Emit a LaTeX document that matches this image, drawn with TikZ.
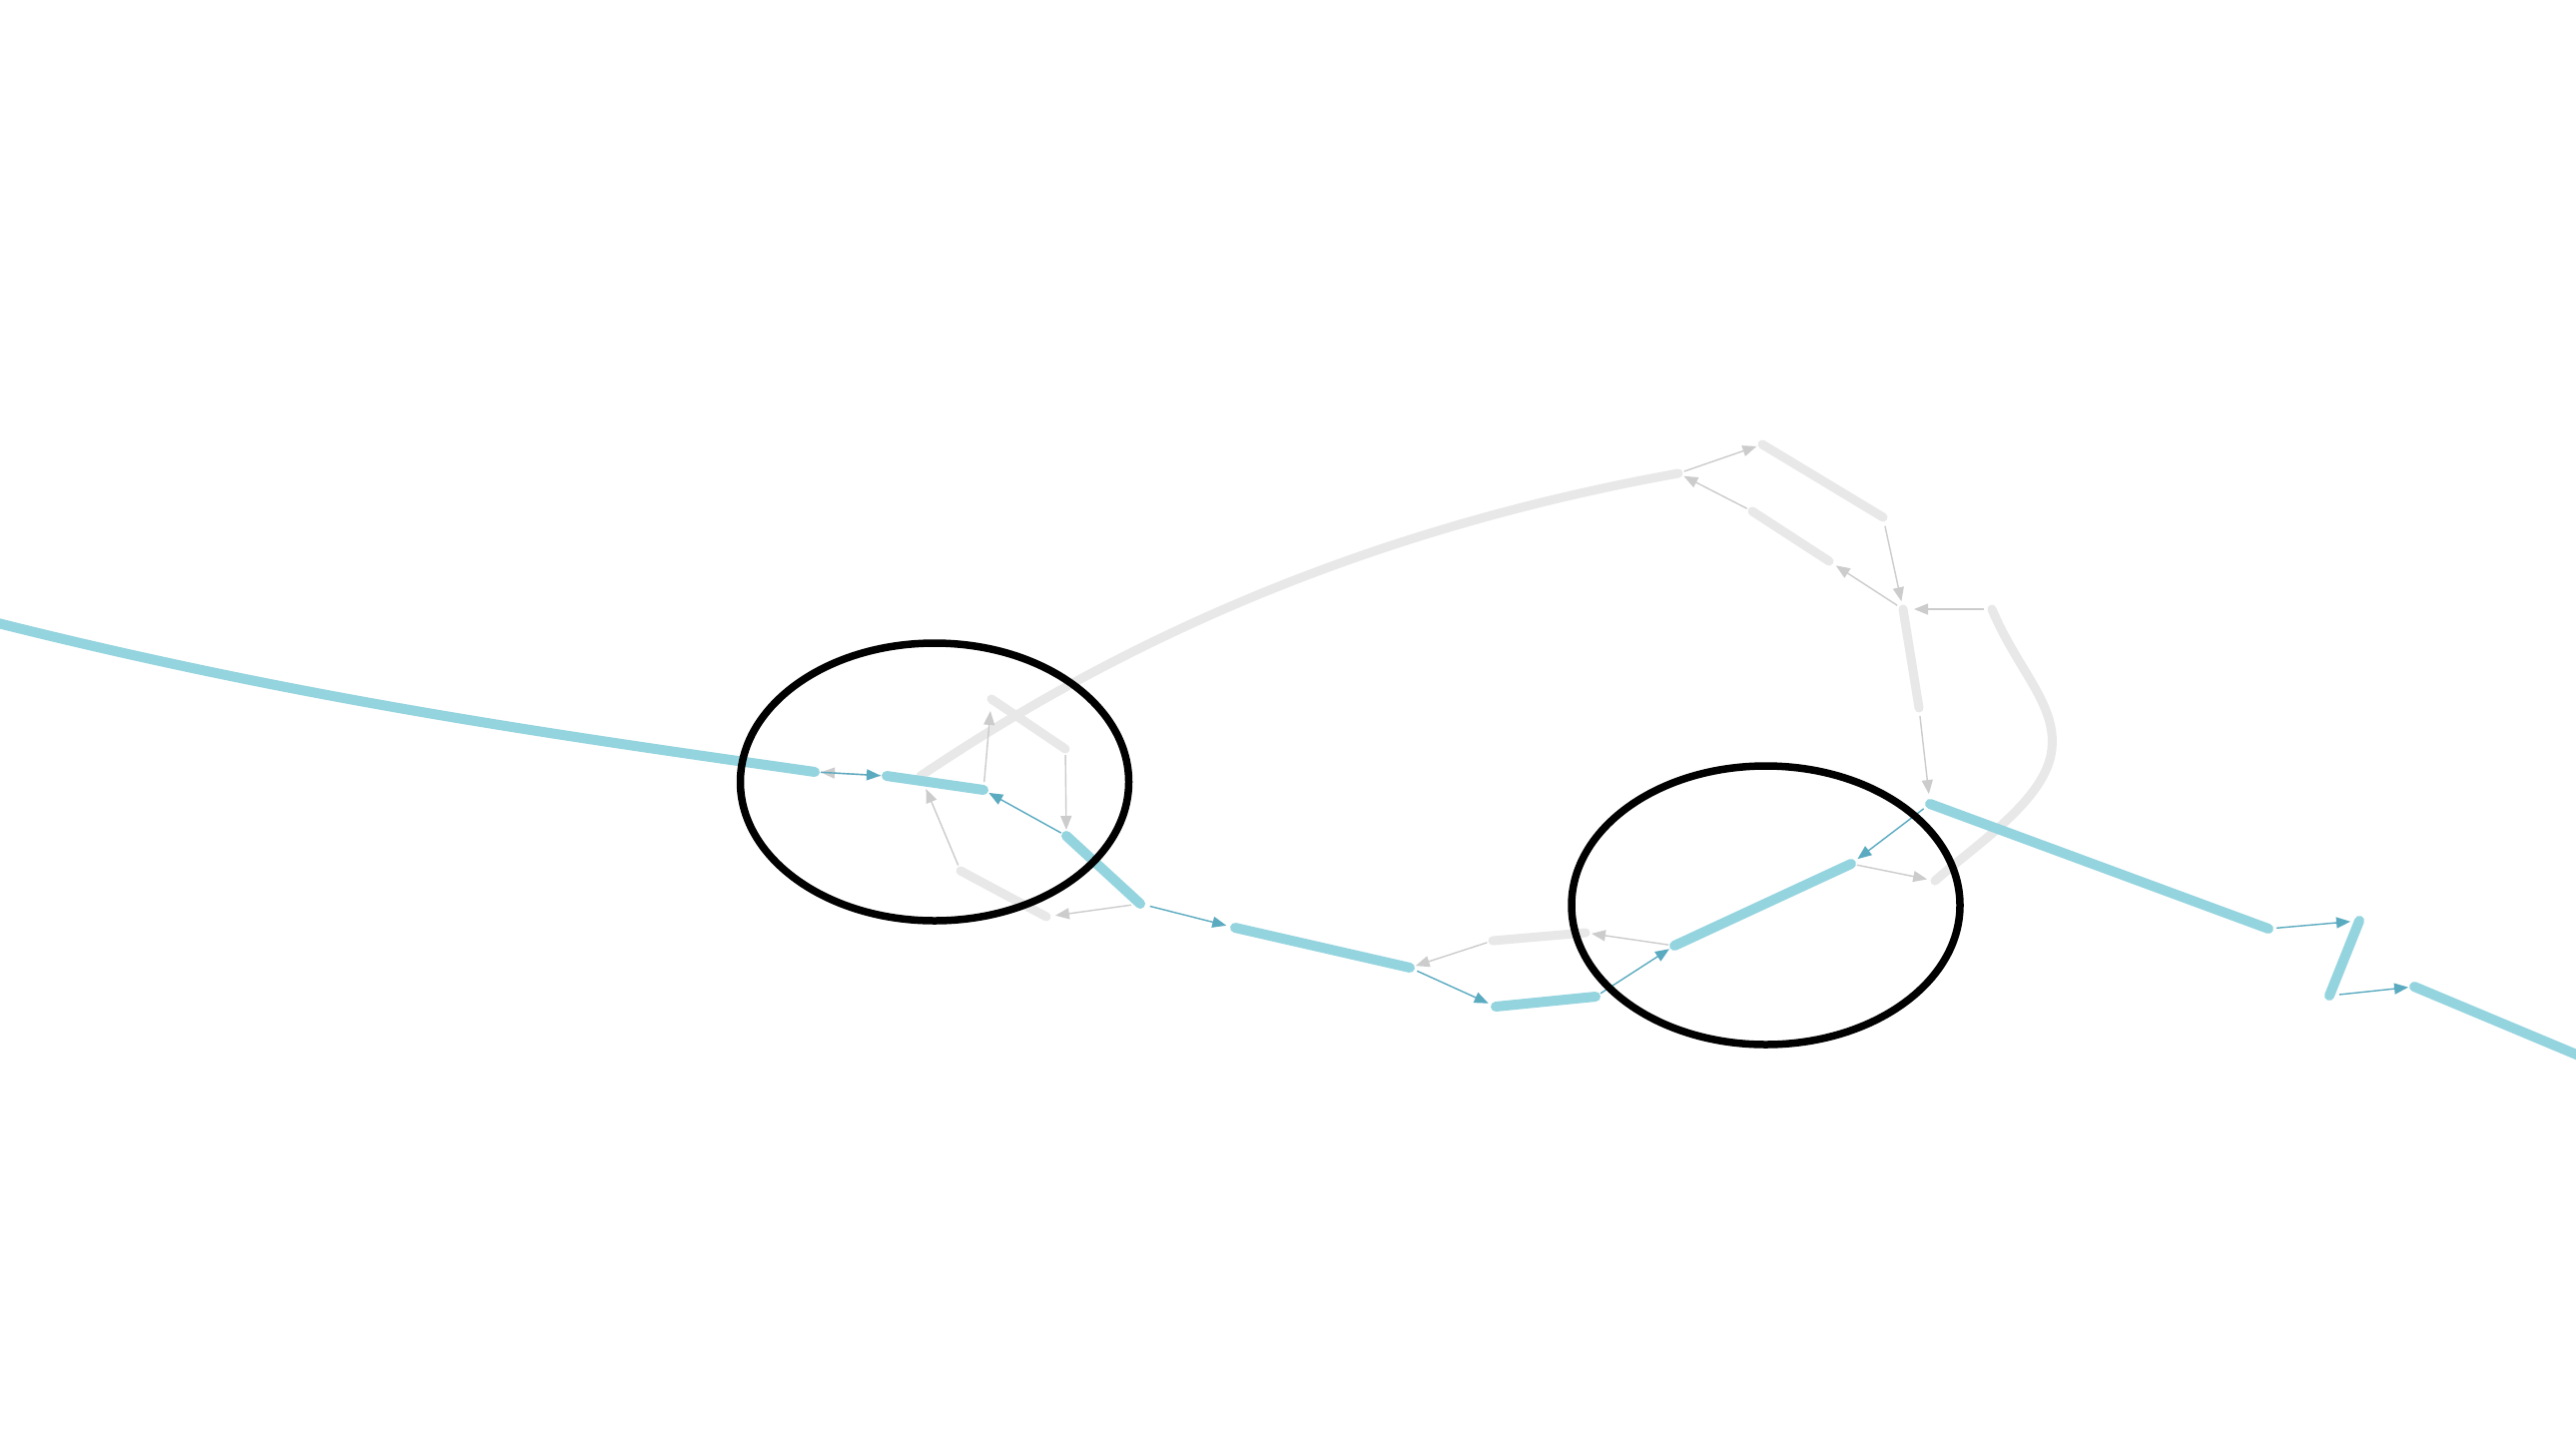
\documentclass[tikz,border=0pt]{standalone}
\usetikzlibrary{arrows.meta,shapes.geometric}
\definecolor{segblue}{RGB}{148,212,223}
\definecolor{arrblue}{RGB}{90,170,192}
\definecolor{seggray}{RGB}{232,232,232}
\definecolor{arrgray}{RGB}{204,204,204}
\tikzset{
  bseg/.style={draw=segblue,line width=10pt,line cap=round},
  gseg/.style={draw=seggray,line width=9pt,line cap=round},
  barrow/.style={draw=arrblue,line width=1.4pt,-{Triangle[length=14pt,width=11pt]},shorten <=6pt,shorten >=6pt},
  garrow/.style={draw=arrgray,line width=1.4pt,-{Triangle[length=14pt,width=11pt]},shorten <=6pt,shorten >=6pt},
  ring/.style={ellipse,draw=black,line width=7.5pt,inner sep=0pt,fill=none}
}
\begin{document}
\begin{tikzpicture}[x=1pt,y=-1pt]
\useasboundingbox[fill=white] (0,0) rectangle (2580,1436);
% segment end points
\coordinate (L0s) at (-10,622);
\coordinate (L0e) at (816,773);
\coordinate (B2s) at (888,777);
\coordinate (B2e) at (985,791);
\coordinate (B3s) at (1068,837);
\coordinate (B3e) at (1142,905);
\coordinate (B4s) at (1237,929);
\coordinate (B4e) at (1412,969);
\coordinate (B5s) at (1498,1008);
\coordinate (B5e) at (1598,998);
\coordinate (B6s) at (1677,947);
\coordinate (B6e) at (1854,865);
\coordinate (B7s) at (1933,805);
\coordinate (B7e) at (2272,930);
\coordinate (B8s) at (2363,922);
\coordinate (B8e) at (2333,997);
\coordinate (B9s) at (2418,988);
\coordinate (B9e) at (2590,1060);
\coordinate (GCs) at (922,777);
\coordinate (GCe) at (1681,474);
\coordinate (G1s) at (993,700);
\coordinate (G1e) at (1067,750);
\coordinate (G2s) at (962,872);
\coordinate (G2e) at (1048,918);
\coordinate (G3s) at (1495,942);
\coordinate (G3e) at (1588,934);
\coordinate (G4s) at (1765,445);
\coordinate (G4e) at (1886,518);
\coordinate (G5s) at (1906,610);
\coordinate (G5e) at (1922,709);
\coordinate (G6s) at (1832,562);
\coordinate (G6e) at (1755,512);
\coordinate (G7s) at (1995,610);
\coordinate (G7m) at (2055,750);
\coordinate (G7e) at (1938,882);
% gray segments
\draw[gseg] (GCs) .. controls (1125,640) and (1370,530) .. (GCe);
\draw[gseg] (G1s) -- (G1e);
\draw[gseg] (G2s) -- (G2e);
\draw[gseg] (G3s) -- (G3e);
\draw[gseg] (G4s) -- (G4e);
\draw[gseg] (G5s) -- (G5e);
\draw[gseg] (G6s) -- (G6e);
\draw[gseg] (G7s) .. controls (2020,670) and (2060,705) .. (G7m) .. controls (2050,800) and (1980,845) .. (G7e);
% blue segments
\draw[bseg] (L0s) .. controls (300,700) and (550,735) .. (L0e);
\draw[bseg] (B2s) -- (B2e);
\draw[bseg] (B3s) -- (B3e);
\draw[bseg] (B4s) -- (B4e);
\draw[bseg] (B5s) -- (B5e);
\draw[bseg] (B6s) -- (B6e);
\draw[bseg] (B7s) -- (B7e);
\draw[bseg] (B8s) -- (B8e);
\draw[bseg] (B9s) -- (B9e);
% gray arrows
\draw[garrow] (B2s) -- (L0e);
\draw[garrow,shorten <=8pt,shorten >=12pt] (B2e) -- (G1s);
\draw[garrow] (G1e) -- (B3s);
\draw[garrow,shorten >=14pt] (G2s) -- (GCs);
\draw[garrow,shorten <=9pt,shorten >=9pt] (B3e) -- (G2e);
\draw[garrow] (G3s) -- (B4e);
\draw[garrow] (B6s) -- (G3e);
\draw[garrow,shorten >=8pt] (B6e) -- (G7e);
\draw[garrow] (GCe) -- (G4s);
\draw[garrow,shorten <=9pt,shorten >=8pt] (G4e) -- (G5s);
\draw[garrow,shorten <=8pt,shorten >=10pt] (G5e) -- (B7s);
\draw[garrow,shorten <=7pt,shorten >=8pt] (G5s) -- (G6s);
\draw[garrow] (G6e) -- (GCe);
\draw[garrow,shorten <=8pt,shorten >=11pt] (G7s) -- (G5s);
% blue arrows
\draw[barrow] (L0e) -- (B2s);
\draw[barrow] (B3s) -- (B2e);
\draw[barrow,shorten <=10pt,shorten >=9pt] (B3e) -- (B4s);
\draw[barrow,shorten <=8pt,shorten >=8pt] (B4e) -- (B5s);
\draw[barrow] (B5e) -- (B6s);
\draw[barrow,shorten <=8pt,shorten >=8pt] (B7s) -- (B6e);
\draw[barrow,shorten <=8pt,shorten >=9pt] (B7e) -- (B8s);
\draw[barrow,shorten <=10pt,shorten >=6pt] (B8e) -- (B9s);
% rings
\node[ring,minimum width=389pt,minimum height=278pt] (E1) at (936,783) {};
\node[ring,minimum width=389pt,minimum height=279pt] (E2) at (1768.5,906.5) {};
\end{tikzpicture}
\end{document}
